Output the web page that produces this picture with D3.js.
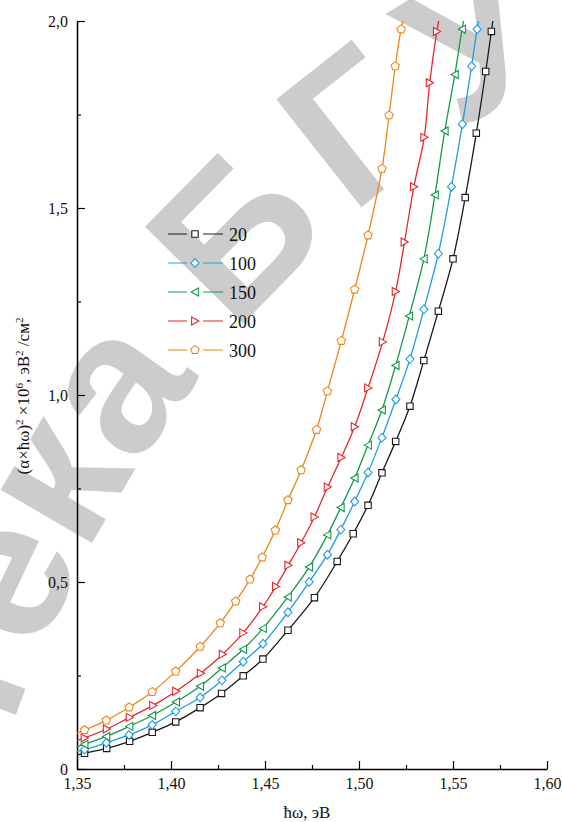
<!DOCTYPE html>
<html>
<head>
<meta charset="utf-8">
<script src="https://cdn.jsdelivr.net/npm/d3@7"></script>
<style>
  html, body { margin: 0; padding: 0; background: #fff; }
  svg { display: block; }
  .serif { font-family: 'Liberation Serif', 'Times New Roman', Times, serif; }
</style>
</head>
<body>
<div id="chart"></div>
<script>
// photon energy (eV) and (alpha*hw)^2 x 1e6 values
const series = ['20', '100', '150', '200', '300'];
const colors = ['#1a1a1a', '#1e9be6', '#14994a', '#e5282a', '#f08519'];
const shapes = ['square', 'diamond', 'triLeft', 'triRight', 'pentagon'];

const x20 = [1.354, 1.3658, 1.378, 1.390, 1.4025, 1.4155, 1.4269, 1.4384, 1.4489, 1.4622, 1.4763, 1.4884, 1.4969, 1.5048, 1.5122, 1.5195, 1.5271, 1.5345, 1.5422, 1.5500, 1.5565, 1.5624, 1.5674, 1.5704];
const y20 = [0.042, 0.055, 0.074, 0.098, 0.126, 0.164, 0.202, 0.249, 0.294, 0.371, 0.458, 0.555, 0.629, 0.705, 0.792, 0.876, 0.970, 1.092, 1.224, 1.364, 1.528, 1.700, 1.865, 1.972];

const x100 = [1.354, 1.3656, 1.3777, 1.390, 1.4025, 1.4155, 1.4271, 1.4384, 1.4489, 1.4622, 1.4735, 1.4832, 1.4903, 1.4977, 1.5048, 1.5122, 1.5196, 1.5271, 1.5345, 1.5422, 1.5492, 1.5550, 1.5599, 1.5628];
const y100 = [0.052, 0.070, 0.091, 0.118, 0.154, 0.191, 0.237, 0.287, 0.335, 0.419, 0.500, 0.573, 0.640, 0.715, 0.793, 0.886, 0.988, 1.096, 1.229, 1.378, 1.557, 1.724, 1.879, 1.978];

const x150 = [1.354, 1.3656, 1.3779, 1.390, 1.4027, 1.4155, 1.4271, 1.4384, 1.4489, 1.4622, 1.4735, 1.4832, 1.4903, 1.4977, 1.5048, 1.5122, 1.5195, 1.5267, 1.5345, 1.5404, 1.5456, 1.5510, 1.5548];
const y150 = [0.066, 0.087, 0.114, 0.143, 0.179, 0.221, 0.270, 0.320, 0.376, 0.460, 0.540, 0.626, 0.699, 0.778, 0.866, 0.960, 1.079, 1.211, 1.364, 1.535, 1.706, 1.857, 1.978];

const x200 = [1.354, 1.3658, 1.378, 1.3905, 1.4027, 1.4158, 1.4275, 1.4384, 1.4489, 1.4558, 1.4624, 1.4692, 1.4763, 1.4833, 1.4906, 1.4977, 1.5048, 1.5126, 1.5195, 1.5242, 1.5292, 1.5347, 1.5376, 1.5414];
const y200 = [0.083, 0.107, 0.138, 0.170, 0.208, 0.256, 0.307, 0.364, 0.434, 0.488, 0.545, 0.605, 0.674, 0.754, 0.833, 0.915, 1.019, 1.142, 1.277, 1.409, 1.557, 1.689, 1.835, 1.972];

const x300 = [1.354, 1.3656, 1.3777, 1.390, 1.4025, 1.4155, 1.4262, 1.4344, 1.4420, 1.4485, 1.4555, 1.4622, 1.4692, 1.4774, 1.4832, 1.4906, 1.4977, 1.5048, 1.5122, 1.5160, 1.5193, 1.5224];
const y300 = [0.104, 0.130, 0.165, 0.206, 0.261, 0.327, 0.390, 0.448, 0.507, 0.566, 0.638, 0.719, 0.799, 0.907, 1.010, 1.145, 1.282, 1.427, 1.605, 1.748, 1.879, 1.978];

// where each curve starts (at the y axis) and leaves the frame (at 2,0)
const lineStartY = [0.038, 0.047, 0.060, 0.076, 0.096];
const lineEndX = [1.5712, 1.5636, 1.5556, 1.5424, 1.5234];

const xTicks = [1.35, 1.40, 1.45, 1.50, 1.55, 1.60];
const yTicks = [0, 0.5, 1.0, 1.5, 2.0];

const xs = [x20, x100, x150, x200, x300];
const ys = [y20, y100, y150, y200, y300];

const width = 562, height = 822;
const svg = d3.select('#chart').append('svg')
    .attr('width', width)
    .attr('height', height);

const x = d3.scaleLinear().domain([1.35, 1.60]).range([77, 547]);
const y = d3.scaleLinear().domain([0, 2]).range([769, 21]);

// watermark, set on a wide arc
const wmC = [1147, 1116], wmR = 1200;
const rad = deg => deg * Math.PI / 180;
const a0 = rad(-210), a1 = rad(-60);
const arcPt = a => [wmC[0] + wmR * Math.cos(a), wmC[1] + wmR * Math.sin(a)];
const p0 = arcPt(a0), p1 = arcPt(a1);
svg.append('defs').append('path')
    .attr('id', 'wmArc')
    .attr('d', `M${p0[0]},${p0[1]} A${wmR},${wmR} 0 0 1 ${p1[0]},${p1[1]}`);
const bStart = wmR * (rad(-139.4) - a0);
const wm = svg.append('g')
    .attr('fill', '#cccccc')
    .style('font-family', "'Liberation Sans', Arial, sans-serif")
    .style('font-weight', 'bold')
    .attr('font-size', 200);
wm.append('text').append('textPath')
    .attr('href', '#wmArc')
    .attr('startOffset', bStart - 56)
    .attr('text-anchor', 'end')
    .text('Библиотека');
wm.append('text').append('textPath')
    .attr('href', '#wmArc')
    .attr('startOffset', bStart)
    .style('letter-spacing', '22px')
    .text('БГУИР');

const comma = s => s.replace('.', ',');

// axes
svg.append('g')
    .attr('transform', `translate(${x(1.35)},0)`)
    .call(d3.axisLeft(y).tickValues(yTicks).tickSize(-8).tickSizeOuter(0).tickPadding(9)
        .tickFormat(d => d === 0 ? '0' : comma(d3.format('.1f')(d))));
svg.append('g')
    .attr('transform', `translate(${x(1.35)},0)`)
    .call(d3.axisLeft(y).tickValues([0.25, 0.75, 1.25, 1.75]).tickSize(-4).tickFormat(''))
    .call(g => g.select('.domain').remove());

svg.append('g')
    .attr('transform', `translate(0,${y(0)})`)
    .call(d3.axisBottom(x).tickValues(xTicks).tickSize(-8).tickSizeOuter(0).tickPadding(9)
        .tickFormat(d => comma(d3.format('.2f')(d))));
svg.append('g')
    .attr('transform', `translate(0,${y(0)})`)
    .call(d3.axisBottom(x).tickValues([1.375, 1.425, 1.475, 1.525, 1.575]).tickSize(-4).tickFormat(''))
    .call(g => g.select('.domain').remove());

svg.selectAll('.tick line').attr('stroke', '#000').attr('stroke-width', 1.2);
svg.selectAll('.domain').attr('stroke', '#000').attr('stroke-width', 1.5);
svg.selectAll('.tick text')
    .attr('class', 'serif')
    .attr('font-size', 16)
    .attr('fill', '#111');
svg.selectAll('g').filter(function () { return this.hasAttribute('font-family'); })
    .attr('font-family', null);

// axis titles
svg.append('text')
    .attr('class', 'serif')
    .attr('x', 307).attr('y', 818)
    .attr('text-anchor', 'middle')
    .attr('font-size', 17)
    .attr('fill', '#111')
    .text('ħω, эВ');

const yt = svg.append('text')
    .attr('class', 'serif')
    .attr('transform', 'translate(29,396) rotate(-90)')
    .attr('text-anchor', 'middle')
    .attr('font-size', 17)
    .attr('fill', '#111');
yt.append('tspan').text('(α×ħω)');
yt.append('tspan').attr('dy', -6).attr('font-size', 11).text('2');
yt.append('tspan').attr('dy', 6).text(' ×10');
yt.append('tspan').attr('dy', -6).attr('font-size', 11).text('6');
yt.append('tspan').attr('dy', 6).text(', эВ');
yt.append('tspan').attr('dy', -6).attr('font-size', 11).text('2');
yt.append('tspan').attr('dy', 6).text(' /см');
yt.append('tspan').attr('dy', -6).attr('font-size', 11).text('2');

// marker shapes
function markerPath(shape) {
    switch (shape) {
        case 'square': return 'M-3.2,-3.2H3.2V3.2H-3.2Z';
        case 'diamond': return 'M0,-4.4L4,0L0,4.4L-4,0Z';
        case 'triLeft': return 'M-3.8,0L3.4,-4L3.4,4Z';
        case 'triRight': return 'M3.8,0L-3.4,-4L-3.4,4Z';
        case 'pentagon': {
            const pts = d3.range(5).map(i => {
                const a = -Math.PI / 2 + i * 2 * Math.PI / 5;
                return [4.4 * Math.cos(a), 4.4 * Math.sin(a)];
            });
            return 'M' + pts.map(p => p.join(',')).join('L') + 'Z';
        }
    }
}

const line = d3.line()
    .x(d => x(d[0]))
    .y(d => y(d[1]))
    .curve(d3.curveCatmullRom.alpha(0.5));

series.forEach((name, i) => {
    const pts = xs[i].map((v, j) => [v, ys[i][j]]);
    const full = [[1.35, lineStartY[i]], ...pts, [lineEndX[i], 2.0]];
    svg.append('path')
        .datum(full)
        .attr('fill', 'none')
        .attr('stroke', colors[i])
        .attr('stroke-width', 1.3)
        .attr('d', line);
    svg.append('g').selectAll('path')
        .data(pts)
        .join('path')
        .attr('transform', d => `translate(${x(d[0])},${y(d[1])})`)
        .attr('d', markerPath(shapes[i]))
        .attr('fill', '#fff')
        .attr('stroke', colors[i])
        .attr('stroke-width', 1.1);
});

// legend
const legend = svg.append('g').attr('transform', 'translate(168,234)');
series.forEach((name, i) => {
    const row = legend.append('g').attr('transform', `translate(0,${i * 29})`);
    row.append('line').attr('x1', 0).attr('x2', 19).attr('stroke', colors[i]).attr('stroke-width', 1.4).attr('opacity', 0.7);
    row.append('line').attr('x1', 35).attr('x2', 55).attr('stroke', colors[i]).attr('stroke-width', 1.4).attr('opacity', 0.7);
    row.append('path').attr('transform', 'translate(27,0)')
        .attr('d', markerPath(shapes[i]))
        .attr('fill', '#fff').attr('stroke', colors[i]).attr('stroke-width', 1.1);
    row.append('text')
        .attr('class', 'serif')
        .attr('x', 61).attr('y', 6.5)
        .attr('font-size', 18)
        .attr('fill', '#111')
        .text(name);
});
</script>
</body>
</html>
